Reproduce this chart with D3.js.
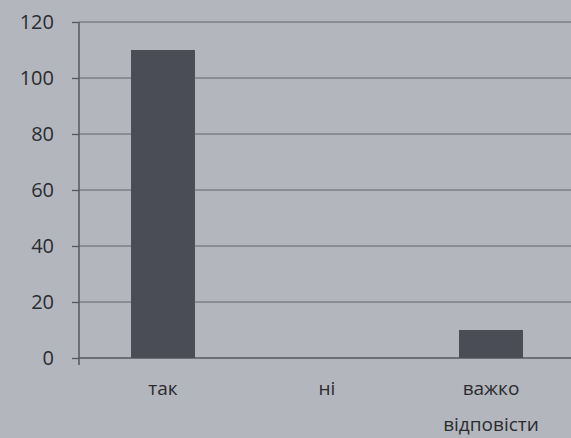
<!DOCTYPE html>
<html><head><meta charset="utf-8">
<script src="https://cdn.jsdelivr.net/npm/d3@7"></script>
<style>body{margin:0;background:#b3b6bc;}svg{display:block;}</style>
</head><body>
<svg id="c" width="571" height="438"></svg>
<script>
const categories = ["так", "ні", "важко відповісти"];
const values = [110, 0, 10];
const yTicks = [0, 20, 40, 60, 80, 100, 120];

const svg = d3.select("#c");
svg.append("rect").attr("width",571).attr("height",438).attr("fill","#b3b6bc");
const m = {left:79, right:0, top:22, bottom:80};
const W = 571, H = 438;
const x = d3.scaleBand().domain(categories).range([m.left + 2, W + 2]).paddingInner(0.61).paddingOuter(0.305);
const y = d3.scaleLinear().domain([0,120]).range([H - m.bottom, m.top]);

// gridlines
svg.append("g").selectAll("line").data(yTicks).join("line")
  .attr("x1", m.left).attr("x2", W).attr("y1", d=>y(d)).attr("y2", d=>y(d))
  .attr("stroke", d=> d===0 ? "#55585e" : "#7d8087").attr("stroke-width", d=> d===0?1.6:1.3);

// bars
svg.append("g").selectAll("rect").data(values).join("rect")
  .attr("x",(d,i)=>x(categories[i])).attr("width",x.bandwidth())
  .attr("y",d=>y(d)).attr("height",d=>y(0)-y(d)).attr("fill","#4a4d55");

// y axis
const ya = d3.axisLeft(y).tickValues(yTicks).tickSize(7).tickPadding(18);
const g = svg.append("g").attr("transform",`translate(${m.left},0)`).call(ya);
g.select(".domain").remove();
g.selectAll(".tick line").attr("stroke","#55585e").attr("stroke-width",1.3);
g.selectAll("text").attr("font-family","Open Sans, sans-serif").attr("font-size",20).attr("fill","#2b2c30");
svg.append("line").attr("x1",m.left).attr("x2",m.left).attr("y1",y(120)).attr("y2",y(0)+7)
  .attr("stroke","#55585e").attr("stroke-width",1.5);

// x labels
const lines = [["так"],["ні"],["важко","відповісти"]];
categories.forEach((c,i)=>{
  const t = svg.append("text").attr("x", x(c)+x.bandwidth()/2).attr("y", 395)
    .attr("text-anchor","middle").attr("font-family","Open Sans, sans-serif").attr("font-size",19).attr("fill","#2b2c30");
  lines[i].forEach((l,j)=> t.append("tspan").attr("x", x(c)+x.bandwidth()/2).attr("dy", j===0?0:36).text(l));
});
</script>
</body></html>
